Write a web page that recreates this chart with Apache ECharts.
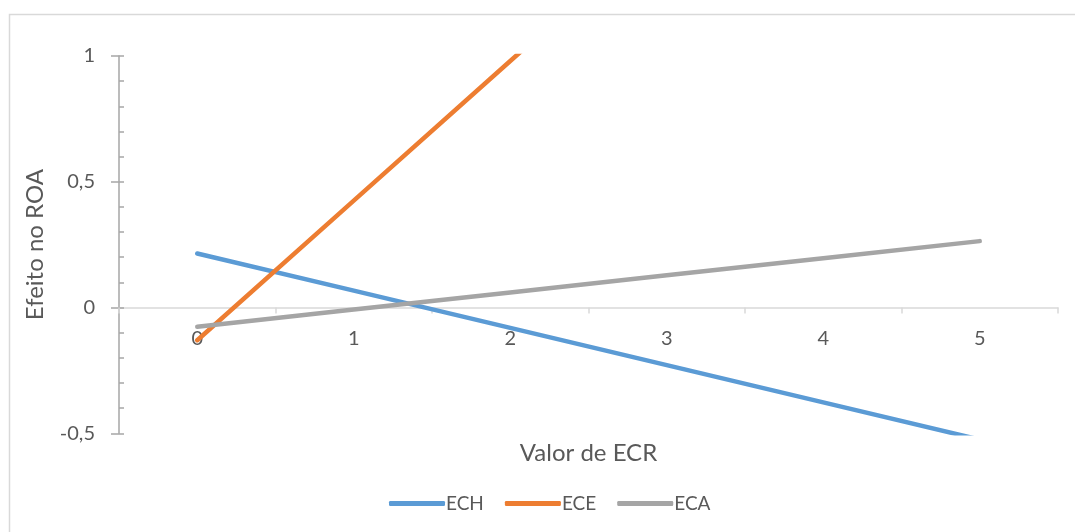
<!DOCTYPE html>
<html>
<head>
<meta charset="utf-8">
<script src="https://cdn.jsdelivr.net/npm/echarts@6/dist/echarts.min.js"></script>
<style>
  html, body { margin: 0; padding: 0; background: #fff; }
  #chart { width: 1075px; height: 532px; }
</style>
</head>
<body>
<div id="chart"></div>
<script>
// Valor de ECR (categories on the horizontal axis)
const categories = ['0', '1', '2', '3', '4', '5'];

// Efeito no ROA for each moderator
const ech = [0.215, 0.067, -0.081, -0.229, -0.377, -0.525];
const ece = [-0.13, 0.425, 0.98, 1.535, 2.09, 2.645];
const eca = [-0.076, -0.008, 0.06, 0.128, 0.196, 0.264];

const seriesNames = ['ECH', 'ECE', 'ECA'];
const seriesColors = ['#5B9BD5', '#ED7D31', '#A5A5A5'];
const seriesValues = [ech, ece, eca];

const Y_MIN = -0.5, Y_MAX = 1;
const GRID = { left: 119, right: 17, top: 56, bottom: 98.7 };
const CHART_H = 532;

const FONT = 'Lato, "Open Sans", sans-serif';
const TEXT = '#595959';

// the category axis sits on the zero line of the value axis
const plotH = CHART_H - GRID.top - GRID.bottom;
const zeroOffset = -plotH * (0 - Y_MIN) / (Y_MAX - Y_MIN);

const chart = echarts.init(document.getElementById('chart'), null, { renderer: 'canvas' });

const yBase = { type: 'value', min: Y_MIN, max: Y_MAX, interval: 0.5, position: 'left' };

chart.setOption({
  animation: false,
  backgroundColor: '#ffffff',
  textStyle: { fontFamily: FONT },
  grid: GRID,
  legend: {
    data: seriesNames,
    left: 384,
    top: 489,
    icon: 'roundRect',
    itemWidth: 56,
    itemHeight: 5,
    itemGap: 21,
    textStyle: { color: TEXT, fontSize: 19, fontFamily: FONT, padding: [0, 0, 0, -4] }
  },
  graphic: [
    {
      type: 'rect',
      silent: true,
      shape: { x: 9.5, y: 14.5, width: 1100, height: 600 },
      style: { fill: 'none', stroke: '#d9d9d9', lineWidth: 1.5 }
    },
    {
      type: 'text',
      silent: true,
      x: 588.5,
      y: 453,
      style: {
        text: 'Valor de ECR',
        fill: TEXT,
        font: '24px ' + FONT,
        align: 'center',
        verticalAlign: 'middle'
      }
    }
  ],
  xAxis: {
    type: 'category',
    data: categories,
    boundaryGap: true,
    offset: zeroOffset,
    axisLine: { show: true, onZero: false, lineStyle: { color: '#d9d9d9', width: 1.5 } },
    axisTick: { show: true, alignWithLabel: false, length: 6, lineStyle: { color: '#d9d9d9', width: 1.5 } },
    axisLabel: { color: TEXT, fontSize: 20, fontFamily: FONT, margin: 21 },
    splitLine: { show: false }
  },
  yAxis: [
    Object.assign({}, yBase, {
      name: 'Efeito no ROA',
      nameLocation: 'middle',
      nameGap: 72,
      nameTextStyle: { color: TEXT, fontSize: 24, fontFamily: FONT },
      axisLine: { show: true, lineStyle: { color: '#a6a6a6', width: 1.5 } },
      axisTick: { show: true, inside: false, length: 8, lineStyle: { color: '#a6a6a6', width: 1.5 } },
      axisLabel: {
        color: TEXT, fontSize: 20, fontFamily: FONT, margin: 24,
        formatter: v => String(v).replace('.', ',')
      },
      splitLine: { show: false }
    }),
    // overlay axis drawing the inner major and minor tick marks
    Object.assign({}, yBase, {
      axisLine: { show: false },
      axisLabel: { show: false },
      axisTick: { show: true, inside: true, length: 5, lineStyle: { color: '#a6a6a6', width: 1.5 } },
      minorTick: { show: true, splitNumber: 5, length: 5, lineStyle: { color: '#a6a6a6', width: 1.5 } },
      splitLine: { show: false }
    })
  ],
  series: seriesNames.map((name, i) => ({
    name: name,
    type: 'line',
    data: seriesValues[i],
    xAxisIndex: 0,
    yAxisIndex: 0,
    symbol: 'none',
    smooth: false,
    clip: true,
    color: seriesColors[i],
    lineStyle: { color: seriesColors[i], width: 4.5, cap: 'round', join: 'round' },
    itemStyle: { color: seriesColors[i] }
  }))
});
</script>
</body>
</html>
